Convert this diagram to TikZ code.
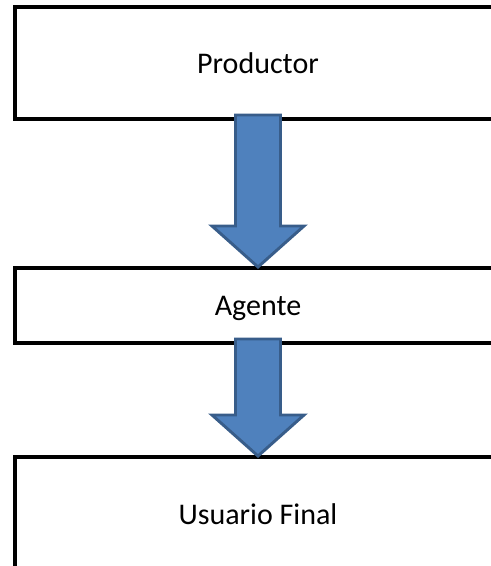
\documentclass[tikz,border=0pt]{standalone}
\usepackage{fontspec}
\setmainfont{Carlito}
\usetikzlibrary{calc}
\definecolor{flechaazul}{HTML}{4F81BD}
\definecolor{flechaborde}{HTML}{385D8A}

\begin{document}
\begin{tikzpicture}[x=0.75pt, y=-0.75pt,
    caja/.style={draw, line width=3pt, inner sep=0pt, outer sep=0pt, text depth=0pt,
        minimum width=365.25pt, font=\fontsize{22.5}{27}\selectfont},
    flecha/.style={fill=flechaazul, draw=flechaborde, line width=2.2pt, line join=miter}]
    \useasboundingbox (0,0) rectangle (491,566);
    \clip (0,0) rectangle (491,566);

    % cajas
    \node[caja, minimum height=84pt] (prod) at (258,63) {Productor};
    \node[caja, minimum height=56.25pt] (agente) at (258,305.5) {Agente};
    \node[caja, minimum height=85.5pt] (usuario) at (258,514) {Usuario Final};

    % flechas
    \foreach \a/\b in {prod/agente, agente/usuario} {
        \draw[flecha] ($(\a.south)+(-22.5,-4)$) -- ($(\a.south)+(22.5,-4)$)
            -- ($(\b.north)+(22.5,-42)$) -- ($(\b.north)+(46,-42)$)
            -- ($(\b.north)+(0,-1)$) -- ($(\b.north)+(-46,-42)$)
            -- ($(\b.north)+(-22.5,-42)$) -- cycle;
    }
\end{tikzpicture}
\end{document}
